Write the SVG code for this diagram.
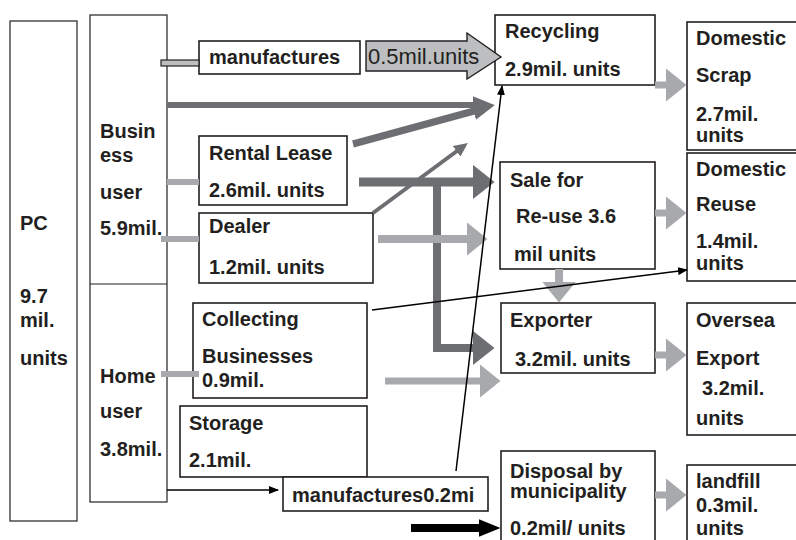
<svg xmlns="http://www.w3.org/2000/svg" width="796" height="540" viewBox="0 0 796 540">
<style>
.box{fill:#fff;stroke:#231f20;stroke-width:1.6}
.thin{fill:#fff;stroke:#231f20;stroke-width:1.2}
text{font-family:"Liberation Sans",Arial,sans-serif;font-size:20px;font-weight:bold;fill:#231f20}
.reg{font-weight:normal;font-size:22px}
.lg{stroke:#a7a9ac;fill:none}
.dg{stroke:#6d6e71;fill:none}
.bk{stroke:#000;fill:none}
</style>
<defs>
<marker id="hl" markerUnits="userSpaceOnUse" markerWidth="21" markerHeight="34" viewBox="0 0 21 34" refX="0.5" refY="17" orient="auto"><path d="M0,0 L21,17 L0,34 z" fill="#a7a9ac"/></marker>
<marker id="hd" markerUnits="userSpaceOnUse" markerWidth="22" markerHeight="35" viewBox="0 0 22 35" refX="0.5" refY="17.5" orient="auto"><path d="M0,0 L22,17.5 L0,35 z" fill="#6d6e71"/></marker>
<marker id="hds" markerUnits="userSpaceOnUse" markerWidth="22" markerHeight="18" viewBox="0 0 22 18" refX="0.5" refY="9" orient="auto"><path d="M0,0 L22,9 L0,18 z" fill="#6d6e71"/></marker>
<marker id="hdt" markerUnits="userSpaceOnUse" markerWidth="14" markerHeight="13" viewBox="0 0 14 13" refX="0.5" refY="6.5" orient="auto"><path d="M0,0 L14,6.5 L0,13 z" fill="#6d6e71"/></marker>
<marker id="hk" markerUnits="userSpaceOnUse" markerWidth="10" markerHeight="8" viewBox="0 0 10 8" refX="9" refY="4" orient="auto"><path d="M0,0 L10,4 L0,8 z" fill="#000"/></marker>
<marker id="hkb" markerUnits="userSpaceOnUse" markerWidth="22" markerHeight="18" viewBox="0 0 22 18" refX="0.5" refY="9" orient="auto"><path d="M0,0 L22,9 L0,18 z" fill="#000"/></marker>
</defs>

<g id="pc"><rect class="thin" x="10" y="21" width="67" height="500"/>
<text x="20" y="230">PC</text><text x="20" y="303">9.7</text><text x="20" y="327">mil.</text><text x="20" y="365">units</text></g>

<g id="users"><rect class="thin" x="90" y="15" width="77" height="487"/>
<line x1="90" y1="284" x2="167" y2="284" stroke="#231f20" stroke-width="1.2"/></g>
<g id="business"><text x="100" y="138">Busin</text><text x="100" y="162">ess</text><text x="100" y="199">user</text><text x="100" y="235">5.9mil.</text></g>
<g id="home"><text x="100" y="383">Home</text><text x="100" y="418">user</text><text x="100" y="456">3.8mil.</text></g>

<g id="manufactures"><rect class="box" x="199" y="41" width="161" height="33"/><text x="209" y="64">manufactures</text></g>
<g id="rental"><rect class="box" x="199" y="136" width="148" height="69"/><text x="209" y="160">Rental Lease</text><text x="209" y="197">2.6mil. units</text></g>
<g id="dealer"><rect class="box" x="199" y="213" width="174" height="70"/><text x="209" y="233">Dealer</text><text x="209" y="274">1.2mil. units</text></g>
<g id="collecting"><rect class="box" x="193" y="303" width="174" height="95"/><text x="202" y="326">Collecting</text><text x="202" y="363">Businesses</text><text x="202" y="387">0.9mil.</text></g>
<g id="storage"><rect class="box" x="180" y="406" width="187" height="71"/><text x="189" y="430">Storage</text><text x="189" y="467">2.1mil.</text></g>
<g id="manufactures2"><rect class="box" x="283" y="477" width="205" height="34"/><text x="292" y="502">manufactures0.2mi</text></g>

<g id="recycling"><rect class="box" x="495" y="15" width="160" height="70"/><text x="505" y="38">Recycling</text><text x="505" y="76">2.9mil. units</text></g>
<g id="sale"><rect class="box" x="500" y="162" width="155" height="107"/><text x="510" y="187">Sale for</text><text x="516" y="223">Re-use 3.6</text><text x="514" y="261">mil units</text></g>
<g id="exporter"><rect class="box" x="501" y="303" width="154" height="70"/><text x="510" y="327">Exporter</text><text x="515" y="366">3.2mil. units</text></g>
<g id="disposal"><rect class="box" x="501" y="451" width="154" height="100"/><text x="510" y="478">Disposal by</text><text x="510" y="498">municipality</text><text x="510" y="535">0.2mil/ units</text></g>

<g id="scrap"><rect class="box" x="687" y="22" width="120" height="128"/><text x="696" y="45">Domestic</text><text x="696" y="82">Scrap</text><text x="696" y="121">2.7mil.</text><text x="696" y="142">units</text></g>
<g id="reuse"><rect class="box" x="687" y="153" width="120" height="128"/><text x="696" y="176">Domestic</text><text x="696" y="211">Reuse</text><text x="696" y="248">1.4mil.</text><text x="696" y="270">units</text></g>
<g id="oversea"><rect class="box" x="687" y="303" width="120" height="132"/><text x="696" y="327">Oversea</text><text x="696" y="365">Export</text><text x="702" y="395">3.2mil.</text><text x="696" y="425">units</text></g>
<g id="landfill"><rect class="box" x="687" y="465" width="120" height="90"/><text x="696" y="488">landfill</text><text x="696" y="512">0.3mil.</text><text x="696" y="535">units</text></g>

<g id="connectors">
<rect x="161" y="60" width="38" height="6" fill="#bcbec0" stroke="#231f20" stroke-width="1.2"/>
<path d="M366,41 H467 V33 L501,57 L467,79 V71 H366 Z" fill="#bcbec0" stroke="#231f20" stroke-width="1.4"/>
<text class="reg" x="368" y="64">0.5mil.units</text>
<line class="lg" x1="167" y1="182" x2="199" y2="182" stroke-width="6"/>
<line class="lg" x1="161" y1="239" x2="199" y2="239" stroke-width="6"/>
<line class="lg" x1="161" y1="374" x2="199" y2="374" stroke-width="6"/>
<line class="dg" x1="167" y1="105" x2="473" y2="105" stroke-width="6" marker-end="url(#hds)"/>
<line class="dg" x1="353" y1="144" x2="474" y2="111" stroke-width="7" marker-end="url(#hds)"/>
<line class="dg" x1="373" y1="213" x2="457" y2="151" stroke-width="4" marker-end="url(#hdt)"/>
<line class="dg" x1="359" y1="182" x2="473" y2="182" stroke-width="9" marker-end="url(#hd)"/>
<polyline class="dg" points="437,182 437,348 473,348" stroke-width="8" marker-end="url(#hd)"/>
<line class="lg" x1="378" y1="239" x2="467" y2="239" stroke-width="8" marker-end="url(#hl)"/>
<line class="lg" x1="385" y1="381" x2="480" y2="381" stroke-width="7" marker-end="url(#hl)"/>
<line class="lg" x1="655" y1="85" x2="666" y2="85" stroke-width="7" marker-end="url(#hl)"/>
<line class="lg" x1="655" y1="213" x2="666" y2="213" stroke-width="7" marker-end="url(#hl)"/>
<line class="lg" x1="655" y1="355" x2="666" y2="355" stroke-width="7" marker-end="url(#hl)"/>
<line class="lg" x1="655" y1="495" x2="666" y2="495" stroke-width="7" marker-end="url(#hl)"/>
<line class="lg" x1="559" y1="269" x2="559" y2="282" stroke-width="8" marker-end="url(#hl)"/>
<line class="bk" x1="372" y1="310" x2="687" y2="270" stroke-width="1.5" marker-end="url(#hk)"/>
<line class="bk" x1="456" y1="471" x2="502" y2="86" stroke-width="1.5" marker-end="url(#hk)"/>
<line class="bk" x1="167" y1="490" x2="278" y2="490" stroke-width="1.5" marker-end="url(#hk)"/>
<line class="bk" x1="411" y1="528" x2="479" y2="528" stroke-width="8" marker-end="url(#hkb)"/>
</g>
</svg>
